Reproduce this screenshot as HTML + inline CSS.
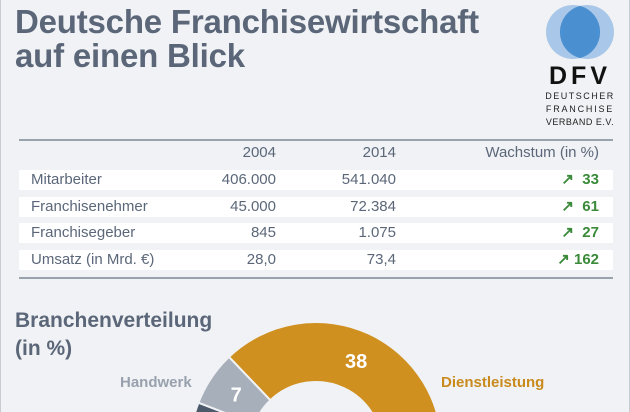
<!DOCTYPE html>
<html><head><meta charset="utf-8"><style>
body{margin:0;width:630px;height:412px;overflow:hidden;background:#eef0f3;font-family:"Liberation Sans",sans-serif;}
#root{position:relative;width:628px;height:412px;overflow:hidden;border-left:1px solid #c8ccd2;border-right:1px solid #c8ccd2;background:#f0f2f5;}
.t{position:absolute;white-space:nowrap;}
.title{color:#5b6779;font-weight:bold;font-size:33px;left:14px;letter-spacing:-0.2px;}
.row{position:absolute;left:18px;width:594px;height:20px;background:#fff;}
.cell{position:absolute;font-size:15px;color:#5b6779;line-height:20px;}
.r{text-align:right;}
.g{color:#3a8a3a;font-weight:bold;}
</style></head><body>
<div id="root">
<div class="t title" style="top:3px">Deutsche Franchisewirtschaft</div>
<div class="t title" style="top:37px">auf einen Blick</div>
<svg style="position:absolute;left:540px;top:0" width="80" height="130">
<circle cx="32" cy="32" r="27" fill="#a9c7e8"/><circle cx="46" cy="32" r="27" fill="#a9c7e8"/>
<path d="M39 5.9 A27 27 0 0 1 39 58.1 A27 27 0 0 1 39 5.9Z" fill="#4a8fd0"/>
<text x="39" y="84" text-anchor="middle" font-family="Liberation Sans" font-weight="bold" font-size="25" fill="#111" letter-spacing="4">DFV</text>
<text x="39" y="99" text-anchor="middle" font-family="Liberation Sans" font-size="9" fill="#222" letter-spacing="1.5">DEUTSCHER</text>
<text x="39" y="112" text-anchor="middle" font-family="Liberation Sans" font-size="9" fill="#222" letter-spacing="1.8">FRANCHISE</text>
<text x="39" y="125" text-anchor="middle" font-family="Liberation Sans" font-size="9" fill="#222" letter-spacing="0.5">VERBAND E.V.</text>
</svg>
<div style="position:absolute;left:18px;top:139px;width:594px;height:2px;background:#9aa2ad"></div>
<div style="position:absolute;left:18px;top:277px;width:594px;height:2px;background:#9aa2ad"></div>
<div class="cell r" style="left:180px;width:95px;top:143px">2004</div>
<div class="cell r" style="left:300px;width:95px;top:143px">2014</div>
<div class="cell r" style="left:440px;width:158px;top:143px">Wachstum (in %)</div>
<div id="rows"></div>
<div class="t" style="left:14px;top:307px;font-size:21px;font-weight:bold;color:#5b6779;line-height:28px">Branchenverteilung<br>(in %)</div>
<svg id="donut" style="position:absolute;left:0;top:0" width="630" height="412"></svg>
<div class="t" style="left:119px;top:374px;font-size:15px;font-weight:bold;color:#98a1ad">Handwerk</div>
<div class="t" style="left:440px;top:374px;font-size:15px;font-weight:bold;color:#c98a1e">Dienstleistung</div>
</div>
<script>
const rowLabels=["Mitarbeiter","Franchisenehmer","Franchisegeber","Umsatz (in Mrd. €)"];
const v2004=["406.000","45.000","845","28,0"];
const v2014=["541.040","72.384","1.075","73,4"];
const growth=[33,61,27,162];
const tops=[170,197,223,250];
const rc=document.getElementById('rows');
rowLabels.forEach((l,i)=>{
 const d=document.createElement('div');d.className='row';d.style.top=tops[i]+'px';
 
 
 d.innerHTML='<div class="cell" style="left:12px">'+l+'</div><div class="cell r" style="left:162px;width:95px">'+v2004[i]+'</div><div class="cell r" style="left:282px;width:95px">'+v2014[i]+'</div><div class="cell r g" style="left:420px;width:160px">↗ '+(growth[i]<100?'&nbsp;':'')+growth[i]+'</div>';
 rc.appendChild(d);
});
const cats=["Dienstleistung","Handel","Gastronomie","Sonstige","Handwerk"];
const shares=[38,28,15,12,7];
const colors=["#d0901f","#6f9a4a","#b5532f","#4d5a6b","#a7afba"];
const cx=315,cy=448,R=126,r=66,start=-43.7;
const svg=document.getElementById('donut');const ns='http://www.w3.org/2000/svg';
function pt(a,rad){const t=(a-90)*Math.PI/180;return [cx+rad*Math.cos(t),cy+rad*Math.sin(t)];}
let a=start;
shares.forEach((s,i)=>{
 const a2=a+s*3.6;const [x1,y1]=pt(a,R),[x2,y2]=pt(a2,R),[x3,y3]=pt(a2,r),[x4,y4]=pt(a,r);const lg=s*3.6>180?1:0;
 const p=document.createElementNS(ns,'path');
 p.setAttribute('d',`M${x1} ${y1}A${R} ${R} 0 ${lg} 1 ${x2} ${y2}L${x3} ${y3}A${r} ${r} 0 ${lg} 0 ${x4} ${y4}Z`);
 p.setAttribute('fill',colors[i]);p.setAttribute('stroke','#f0f2f5');p.setAttribute('stroke-width','2');
 
 
 svg.appendChild(p);
 const m=a+s*1.8;const [lx,ly]=pt(m,(R+r)/2);
 const t=document.createElementNS(ns,'text');t.setAttribute('x',lx);t.setAttribute('y',ly+7);
 t.setAttribute('text-anchor','middle');t.setAttribute('fill','#fff');t.setAttribute('font-weight','bold');t.setAttribute('font-size','20');t.setAttribute('font-family','Liberation Sans');
 t.textContent=s;
 
 
 svg.appendChild(t);
 a=a2;
});
</script>
</body></html>
